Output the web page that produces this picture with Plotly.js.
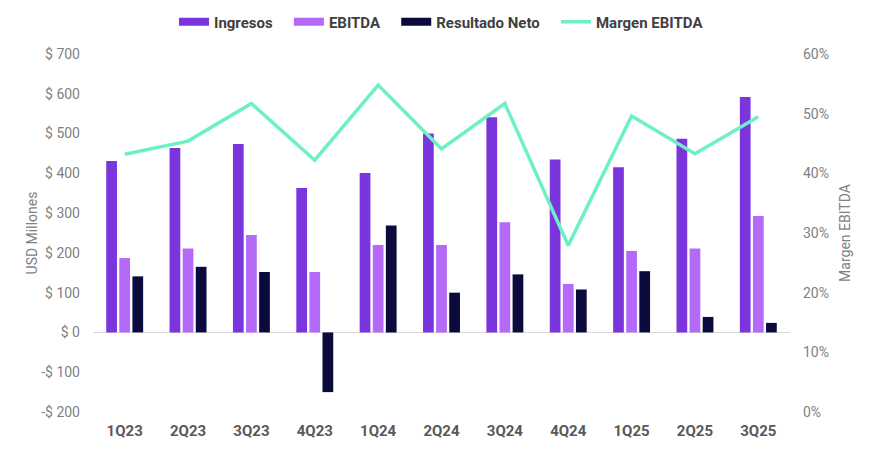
<!DOCTYPE html>
<html>
<head>
<meta charset="utf-8">
<script src="https://cdn.plot.ly/plotly-3.0.1.min.js"></script>
<style>html,body{margin:0;padding:0;background:#fff;}#chart{width:872px;height:450px;}</style>
</head>
<body>
<div id="chart"></div>
<script>
const categories = ['1Q23','2Q23','3Q23','4Q23','1Q24','2Q24','3Q24','4Q24','1Q25','2Q25','3Q25'];
const ingresos = [431, 464, 474, 363, 401, 500, 541, 435, 415, 487, 592];
const ebitda = [187, 211, 245, 152, 220, 220, 277, 122, 205, 211, 293];
const resultadoNeto = [141, 165, 152, -150, 269, 100, 146, 108, 154, 39, 24];
const margenEbitda = [0.432, 0.454, 0.517, 0.422, 0.548, 0.441, 0.517, 0.279, 0.496, 0.433, 0.495];
const leftTickVals = [-200, -100, 0, 100, 200, 300, 400, 500, 600, 700];
const leftTickText = ['-$ 200', '-$ 100', '$ 0', '$ 100', '$ 200', '$ 300', '$ 400', '$ 500', '$ 600', '$ 700'];

const colors = {ing: '#7B35DD', ebi: '#B46AF7', net: '#0B0A3D', mar: '#6DF0C6'};
const FONT = 'Roboto, "Open Sans", sans-serif';
const PAD = '\u00a0\u00a0\u00a0';

function legendProxy(name, color) {
  return {x: [categories[0]], y: [null], type: 'scatter', mode: 'lines', name: name + PAD,
          line: {color: color, width: 8}, hoverinfo: 'skip'};
}

const traces = [
  legendProxy('Ingresos', colors.ing),
  legendProxy('EBITDA', colors.ebi),
  legendProxy('Resultado Neto', colors.net),
  {x: categories, y: ingresos, type: 'bar', name: 'Ingresos', marker: {color: colors.ing}, showlegend: false},
  {x: categories, y: ebitda, type: 'bar', name: 'EBITDA', marker: {color: colors.ebi}, showlegend: false},
  {x: categories, y: resultadoNeto, type: 'bar', name: 'Resultado Neto', marker: {color: colors.net}, showlegend: false},
  {x: categories, y: margenEbitda, type: 'scatter', mode: 'lines', name: 'Margen EBITDA', yaxis: 'y2',
   line: {color: colors.mar, width: 3.5}}
];

const layout = {
  width: 872, height: 450,
  margin: {l: 93, r: 82, t: 54, b: 38, autoexpand: false},
  paper_bgcolor: '#fff', plot_bgcolor: '#fff',
  font: {family: FONT, color: '#7f7f7f', size: 14},
  barmode: 'group', bargap: 0.38, bargroupgap: 0.18,
  showlegend: true,
  legend: {orientation: 'h', x: 0.5, xanchor: 'center', yref: 'container', y: 0.951, yanchor: 'middle',
           font: {family: FONT, size: 15, color: '#404040', weight: 'bold'}, itemwidth: 30, traceorder: 'normal'},
  xaxis: {type: 'category', showgrid: false, showline: false, ticks: '', ticklabelstandoff: 8,
          tickfont: {family: FONT, size: 15, color: '#595959', weight: 'bold'}, fixedrange: true},
  yaxis: {range: [-200, 700], tickvals: leftTickVals, ticktext: leftTickText, showgrid: false,
          zeroline: true, zerolinecolor: '#d9d9d9', zerolinewidth: 1.5, showline: false, ticks: '',
          ticklabelstandoff: 12,
          tickfont: {family: FONT, size: 14, color: '#7f7f7f'},
          title: {text: 'USD Millones', font: {family: FONT, size: 14, color: '#7f7f7f'}, standoff: 0}},
  yaxis2: {overlaying: 'y', side: 'right', range: [0, 0.6], dtick: 0.1, tickformat: '.0%', showgrid: false,
           zeroline: false, showline: false, ticks: '', ticklabelstandoff: 12,
           tickfont: {family: FONT, size: 14, color: '#7f7f7f'},
           title: {text: 'Margen EBITDA', font: {family: FONT, size: 14, color: '#7f7f7f'}, standoff: 12}}
};

Plotly.newPlot('chart', traces, layout, {displayModeBar: false, staticPlot: true});
</script>
</body>
</html>
